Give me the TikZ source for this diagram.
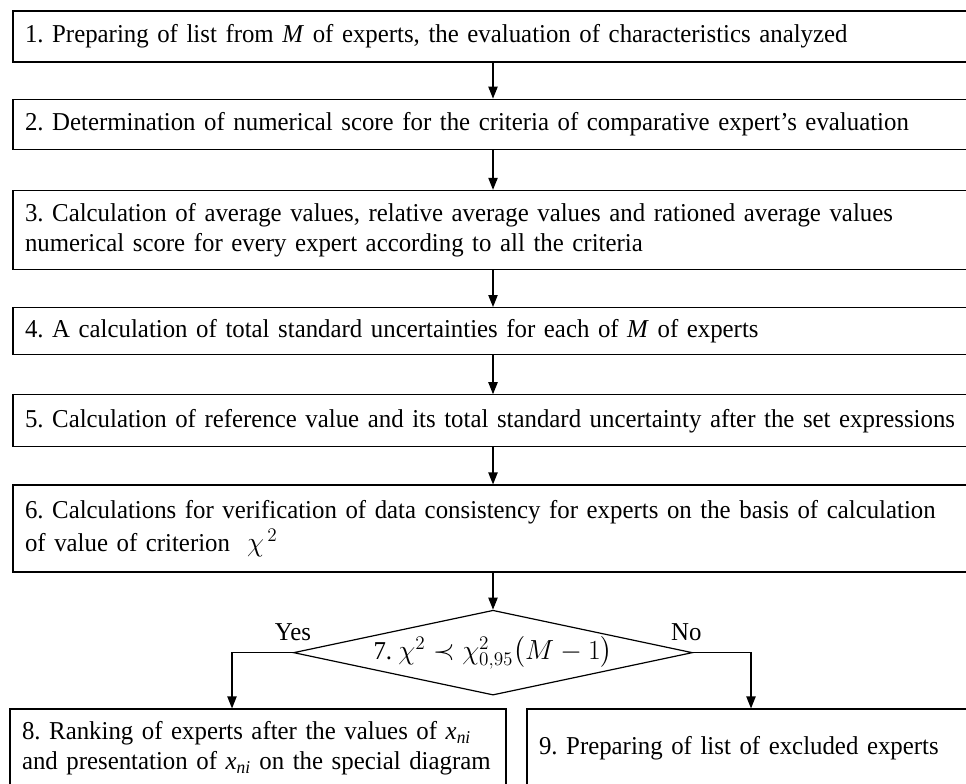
\documentclass[tikz,border=0pt]{standalone}
\usepackage{amsmath, amssymb}
\usepackage{fontspec}
\setmainfont{Liberation Serif}[FakeStretch=0.965]
\frenchspacing
\usepackage{tikz}
\usetikzlibrary{shapes.geometric, arrows.meta, positioning}

\begin{document}
\begin{tikzpicture}[
    x=0.75pt, y=-0.75pt,
    node distance=27.75pt,
    stepbox/.style={draw, line width=0.9pt, rectangle, align=left, inner xsep=9pt, inner ysep=0pt,
        font=\fontsize{19.3}{22.5}\selectfont},
    decision/.style={draw, line width=0.9pt, diamond, aspect=4.7, inner sep=0pt,
        minimum width=296.25pt, minimum height=63pt, font=\fontsize{19.3}{22.5}\selectfont},
    branch/.style={inner sep=0pt, font=\fontsize{19.3}{22.5}\selectfont},
    arrow/.style={-{Triangle[length=9pt, width=7pt]}, line width=0.9pt}
]
    \useasboundingbox (0,0) rectangle (966,783);
    \clip (0,0) rectangle (966,783);

    % Main chain of steps
    \node[stepbox, text width=702pt, minimum height=38.25pt] (step_list) at (493,36.5) {
        1. Preparing of list from \textit{M} of experts, the evaluation of characteristics analyzed
    };
    \node[stepbox, text width=702pt, minimum height=37.5pt, below=27pt of step_list] (step_score) {
        2. Determination of numerical score for the criteria of comparative expert’s evaluation
    };
    \node[stepbox, text width=702pt, minimum height=59.25pt, below=30pt of step_score] (step_avg) {
        3. Calculation of average values, relative average values and rationed average values\\
        numerical score for every expert according to all the criteria
    };
    \node[stepbox, text width=702pt, minimum height=35.25pt, below=27.75pt of step_avg] (step_unc) {
        4. A calculation of total standard uncertainties for each of \textit{M} of experts
    };
    \node[stepbox, text width=702pt, minimum height=39pt, below=29.25pt of step_unc] (step_ref) {
        5. Calculation of reference value and its total standard uncertainty after the set expressions
    };
    \node[stepbox, text width=702pt, minimum height=65.25pt, below=27.75pt of step_ref] (step_chi) {
        6. Calculations for verification of data consistency for experts on the basis of calculation\\[2pt]
        of value of criterion \ $\chi^{\,2}$
    };

    % Decision
    \node[decision, below=27.75pt of step_chi] (dec) {
        7. $\chi^2 \prec \chi^2_{0,95}\bigl(M-1\bigr)$
    };
    \node[branch, above=9pt of dec.west] (yes_lbl) {Yes};
    \node[branch, above=9pt of dec.east, xshift=-5pt] (no_lbl) {No};

    % Outcomes
    \node[stepbox, text width=354pt, minimum height=58.5pt] (step_rank) at (258,748) {
        8. Ranking of experts after the values of \textit{x}\textsubscript{\textit{ni}}\\
        and presentation of \textit{x}\textsubscript{\textit{ni}} on the special diagram
    };
    \node[stepbox, text width=327pt, minimum height=58.5pt] (step_excl) at (757,748) {
        9. Preparing of list of excluded experts
    };

    % Connections
    \draw[arrow] (step_list) -- (step_score);
    \draw[arrow] (step_score) -- (step_avg);
    \draw[arrow] (step_avg) -- (step_unc);
    \draw[arrow] (step_unc) -- (step_ref);
    \draw[arrow] (step_ref) -- (step_chi);
    \draw[arrow] (step_chi) -- (dec);
    \draw[arrow] (dec.west) -| ([xshift=-19.5pt]step_rank.north);
    \draw[arrow] (dec.east) -| ([xshift=-4.5pt]step_excl.north);
\end{tikzpicture}
\end{document}
